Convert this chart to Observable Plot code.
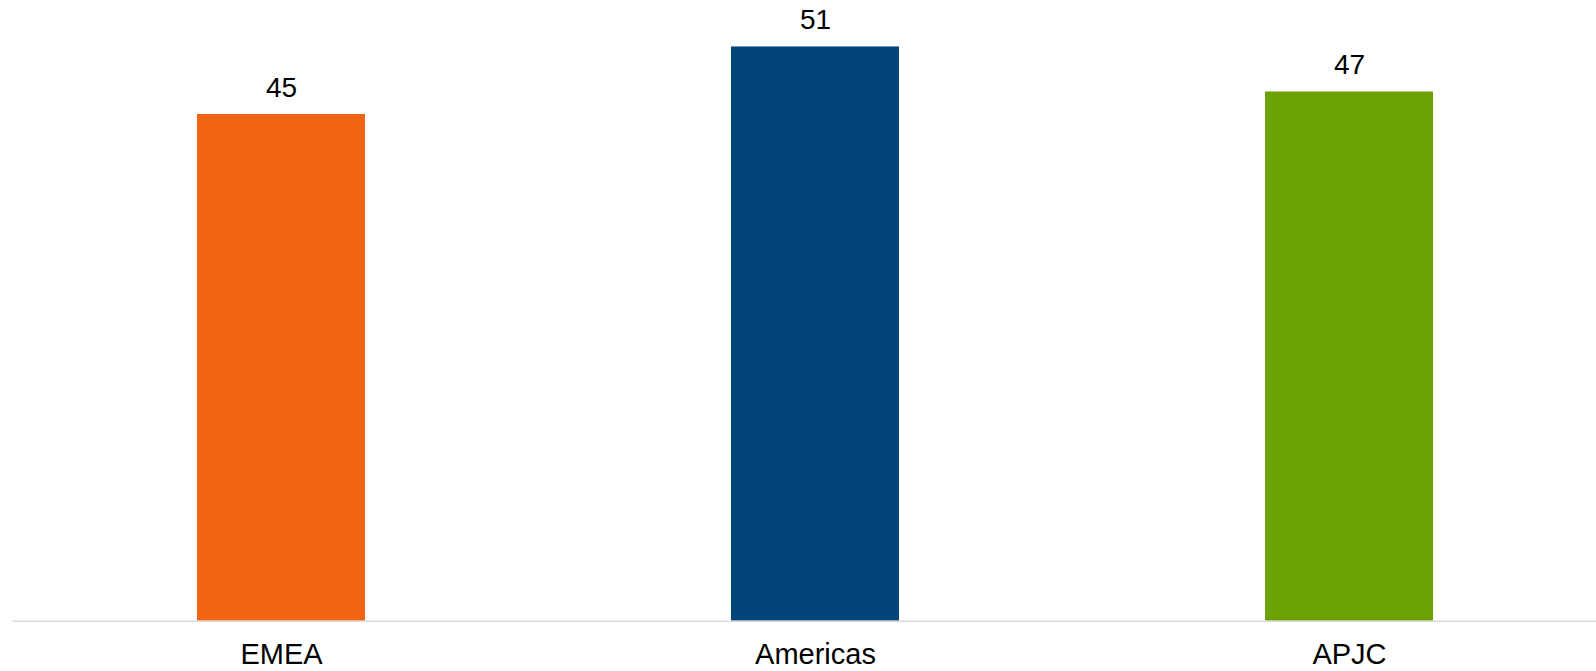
<!DOCTYPE html>
<html>
<head>
<meta charset="utf-8">
<script src="https://cdn.jsdelivr.net/npm/d3@7"></script>
<script src="https://cdn.jsdelivr.net/npm/@observablehq/plot@0.6"></script>
<style>
  html, body { margin: 0; padding: 0; background: #ffffff; overflow: hidden; }
  #chart svg { display: block; }
</style>
</head>
<body>
<div id="chart"></div>
<script>
const regions = ["EMEA", "Americas", "APJC"];
const values = [45, 51, 47];
const colors = ["#F06414", "#014579", "#6DA204"];

const data = regions.map((r, i) => ({region: r, value: values[i]}));

const chart = Plot.plot({
  width: 1596,
  height: 671,
  marginLeft: 12,
  marginRight: 0,
  marginTop: 1.4,
  marginBottom: 50.3,
  style: {fontFamily: "'Liberation Sans', Arial, sans-serif", fontSize: "28px", color: "#000", background: "#fff"},
  x: {domain: regions, range: [12.75, 1616.25], paddingInner: 0.6857, paddingOuter: 0.3428, label: null},
  y: {domain: [0, 55], axis: null},
  color: {domain: regions, range: colors},
  marks: [
    Plot.barY(data, {x: "region", y: "value", fill: "region"}),
    Plot.ruleY([0], {stroke: "#d9d9d9", strokeWidth: 1.5}),
    Plot.text(data, {x: "region", y: "value", text: d => String(d.value), dy: -26.5, fontSize: 28, fill: "#000"}),
    Plot.axisX({tickSize: 0, tickPadding: 22.4, fontSize: 29, label: null, fill: "#000"})
  ]
});
document.getElementById("chart").appendChild(chart);
</script>
</body>
</html>
